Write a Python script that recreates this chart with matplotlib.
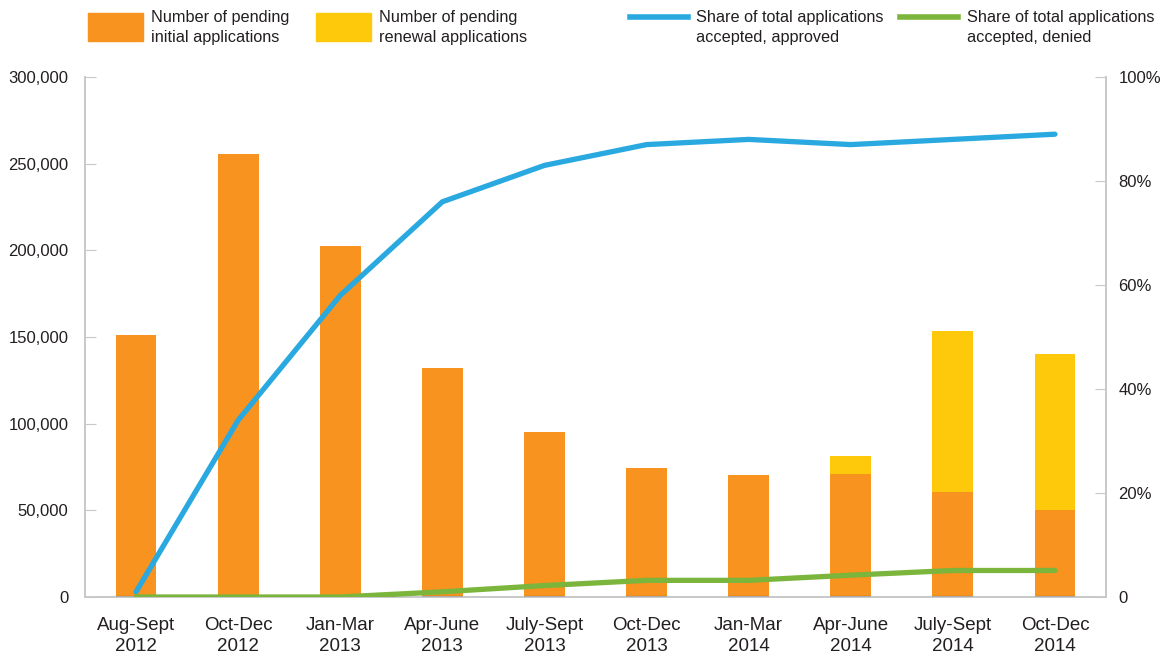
import numpy as np
import matplotlib.pyplot as plt
from matplotlib.patches import Rectangle
from matplotlib.lines import Line2D

plt.rcParams['font.family'] = ['Liberation Sans', 'DejaVu Sans']

quarters = ['Aug-Sept\n2012', 'Oct-Dec\n2012', 'Jan-Mar\n2013', 'Apr-June\n2013',
            'July-Sept\n2013', 'Oct-Dec\n2013', 'Jan-Mar\n2014', 'Apr-June\n2014',
            'July-Sept\n2014', 'Oct-Dec\n2014']
pending_initial = [151000, 255500, 202500, 132000, 95200, 74400, 70400, 70800, 60500, 50200]
pending_renewal = [0, 0, 0, 0, 0, 0, 0, 10500, 93000, 90000]
share_approved = [1, 34, 58, 76, 83, 87, 88, 87, 88, 89]
share_denied = [0, 0, 0, 1, 2.2, 3.2, 3.2, 4.2, 5.1, 5.1]

orange = '#F7931E'
yellow = '#FFC90B'
blue = '#29A9E0'
green = '#7BB53B'
grey = '#C8C8C8'
text_col = '#231F20'

fig = plt.figure(figsize=(11.66, 6.56), dpi=100)
ax = fig.add_axes([85/1166, 1-597/656, (1106-85)/1166, (597-77)/656])
ax2 = ax.twinx()

x = np.arange(len(quarters))
w = 0.4
ax.bar(x, pending_initial, w, color=orange, zorder=2)
ax.bar(x, pending_renewal, w, bottom=pending_initial, color=yellow, zorder=2)
# thin dark base under each bar
for xi in x:
    ax.plot([xi - w/2, xi + w/2], [0, 0], color=text_col, lw=1.5, zorder=3,
            solid_capstyle='butt')

ax2.plot(x, share_approved, color=blue, lw=3.8, solid_capstyle='round', zorder=4)
ax2.plot(x, share_denied, color=green, lw=3.8, solid_capstyle='round', zorder=4)

ax.set_xlim(-0.5, 9.5)
ax.set_ylim(0, 300000)
ax2.set_ylim(0, 100)

ax.set_yticks(np.arange(0, 300001, 50000))
ax.set_yticklabels([f'{v:,}' for v in range(0, 300001, 50000)])
ax2.set_yticks(np.arange(0, 101, 20))
ax2.set_yticklabels(['0', '20%', '40%', '60%', '80%', '100%'])
ax.set_xticks(x)
ax.set_xticklabels(quarters, fontsize=13.5, color=text_col, linespacing=1.3)

ax.tick_params(axis='x', length=0, pad=14.5)
ax.tick_params(axis='y', direction='in', length=8, color=grey, labelsize=12,
               labelcolor=text_col, pad=12)
ax2.tick_params(axis='y', direction='in', length=8, color=grey, labelsize=12,
                labelcolor=text_col, pad=9)

for a in (ax, ax2):
    a.spines['top'].set_visible(False)
    for s in ('left', 'right', 'bottom'):
        a.spines[s].set_color(grey)
        a.spines[s].set_linewidth(1.2)
ax2.set_zorder(ax.get_zorder() + 1)
ax2.patch.set_visible(False)

# legend across the top
H, W = 656, 1166
def fx(px):
    return px / W
def fy(py):
    return 1 - py / H

fig.patches.append(Rectangle((fx(88), fy(41)), fx(55), 28/H, color=orange,
                             transform=fig.transFigure, figure=fig))
fig.patches.append(Rectangle((fx(316), fy(41)), fx(55), 28/H, color=yellow,
                             transform=fig.transFigure, figure=fig))
fig.lines.append(Line2D([fx(630), fx(688)], [fy(17), fy(17)], color=blue, lw=4,
                        transform=fig.transFigure, figure=fig))
fig.lines.append(Line2D([fx(900), fx(958)], [fy(17), fy(17)], color=green, lw=4,
                        transform=fig.transFigure, figure=fig))
legend_texts = [(151, 'Number of pending\ninitial applications'),
                (379, 'Number of pending\nrenewal applications'),
                (696, 'Share of total applications\naccepted, approved'),
                (967, 'Share of total applications\naccepted, denied')]
for px, t in legend_texts:
    fig.text(fx(px), fy(10), t, ha='left', va='top', fontsize=11.7,
             color=text_col, linespacing=1.45)

fig.savefig('out.png', dpi=100)
